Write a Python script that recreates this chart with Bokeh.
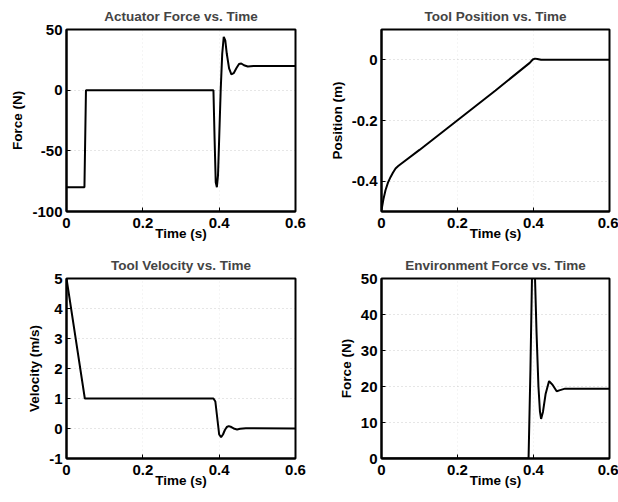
from bokeh.plotting import figure
from bokeh.layouts import column, row
from bokeh.models import FixedTicker, CustomJSTickFormatter, Range1d
from bokeh.embed import file_html
from bokeh.resources import INLINE

# ---------------- data ----------------
x_ticks = [0, 0.2, 0.4, 0.6]

# Actuator force
t_act = [0, 0.047, 0.051, 0.385, 0.388, 0.391, 0.394, 0.397, 0.400, 0.404,
         0.408, 0.412, 0.416, 0.420, 0.426, 0.432, 0.438, 0.445, 0.452,
         0.458, 0.465, 0.475, 0.49, 0.6]
f_act = [-80, -80, 0, 0, -40, -76, -80, -70, -40, 0,
         30, 44, 41, 30, 18, 13, 14, 18, 21.5,
         22, 20.5, 19.5, 20, 20]
act_yticks = [-100, -50, 0, 50]

# Tool position
t_pos = [0, 0.005, 0.0105, 0.017, 0.024, 0.03, 0.037, 0.044, 0.05, 0.1,
         0.2, 0.3, 0.39, 0.398, 0.404, 0.41, 0.42, 0.6]
pos = [-0.495, -0.46, -0.43, -0.405, -0.386, -0.372, -0.358, -0.35, -0.344,
       -0.297, -0.199, -0.101, -0.01, 0.001, 0.004, 0.003, 0.0, 0.0]
pos_yticks = [-0.4, -0.2, 0]

# Tool velocity
t_vel = [0, 0.048, 0.385, 0.39, 0.395, 0.40, 0.405, 0.41, 0.415, 0.42,
         0.425, 0.43, 0.44, 0.447, 0.455, 0.47, 0.6]
vel = [5, 1.0, 1.0, 0.9, 0.35, -0.2, -0.29, -0.2, -0.05, 0.05,
       0.08, 0.06, -0.01, -0.03, -0.01, 0.01, 0.0]
vel_yticks = [-1, 0, 1, 2, 3, 4, 5]

# Environment force
t_env = [0, 0.387, 0.392, 0.396, 0.400, 0.404, 0.408, 0.413, 0.417, 0.42,
         0.425, 0.432, 0.441, 0.45, 0.461, 0.47, 0.483, 0.6]
f_env = [0, 0, 25, 50, 58, 50, 35, 20, 13, 11,
         13, 18, 21.5, 20.5, 18.7, 19.0, 19.4, 19.4]
env_yticks = [0, 10, 20, 30, 40, 50]

FONT = "Liberation Sans"
fmt_code = "var v = Math.round(tick*1000)/1000; return v.toString();"


def make(title, xs, ys, yticks, yrange, ylabel, width, height, bl, br, bt, bb,
         tstand):
    p = figure(width=width, height=height, output_backend="svg",
               toolbar_location=None, x_range=Range1d(0, 0.6),
               y_range=Range1d(*yrange), min_border_left=bl,
               min_border_right=br, min_border_top=bt, min_border_bottom=bb,
               title=title)
    p.title.text_font = FONT
    p.title.text_font_size = "13.5px"
    p.title.text_font_style = "bold"
    p.title.align = "center"
    p.title.standoff = tstand
    p.title.offset = 0
    p.line(xs, ys, line_color="black", line_width=2)
    p.outline_line_color = "black"
    p.outline_line_width = 2
    p.outline_line_alpha = 1
    for ax in (p.xaxis[0], p.yaxis[0]):
        ax.axis_line_color = "black"
        ax.axis_line_width = 2
        ax.major_tick_in = 4
        ax.major_tick_out = 0
        ax.minor_tick_line_color = None
        ax.major_tick_line_color = "black"
        ax.major_tick_line_width = 1
        ax.major_label_text_font = FONT
        ax.major_label_text_font_size = "15px"
        ax.major_label_text_font_style = "bold"
        ax.major_label_text_color = "black"
        ax.axis_label_text_font = FONT
        ax.axis_label_text_font_size = "13.5px"
        ax.axis_label_text_font_style = "bold"
        ax.axis_label_text_color = "black"
        ax.formatter = CustomJSTickFormatter(code=fmt_code)
    p.xaxis[0].ticker = FixedTicker(ticks=x_ticks)
    p.yaxis[0].ticker = FixedTicker(ticks=yticks)
    p.xaxis[0].axis_label = "Time (s)"
    p.yaxis[0].axis_label = ylabel
    p.xaxis[0].major_label_standoff = 6
    p.xaxis[0].axis_label_standoff = -5
    p.yaxis[0].major_label_standoff = 4
    p.yaxis[0].axis_label_standoff = 4
    p.ygrid.grid_line_color = "black"
    p.ygrid.grid_line_alpha = 0.2
    p.ygrid.grid_line_dash = "1 3"
    p.xgrid.grid_line_color = "black"
    p.xgrid.grid_line_alpha = 0.08
    p.xgrid.grid_line_dash = "1 3"
    p.background_fill_color = "white"
    p.border_fill_color = "white"
    return p


p1 = make("Actuator Force vs. Time", t_act, f_act, act_yticks, (-100, 50),
          "Force (N)", 308, 248, 66, 13, 29, 36, 12)
p2 = make("Tool Position vs. Time", t_pos, pos, pos_yticks, (-0.5, 0.1),
          "Position (m)", 310, 248, 73, 9, 29, 37, 12)
p3 = make("Tool Velocity vs. Time", t_vel, vel, vel_yticks, (-1, 5),
          "Velocity (m/s)", 308, 254, 66, 13, 30, 43, 12)
p4 = make("Environment Force vs. Time", t_env, f_env, env_yticks, (0, 50),
          "Force (N)", 310, 254, 73, 9, 30, 44, 12)

layout = column(row(p1, p2), row(p3, p4))

open("out.html", "w").write(file_html(layout, INLINE))
